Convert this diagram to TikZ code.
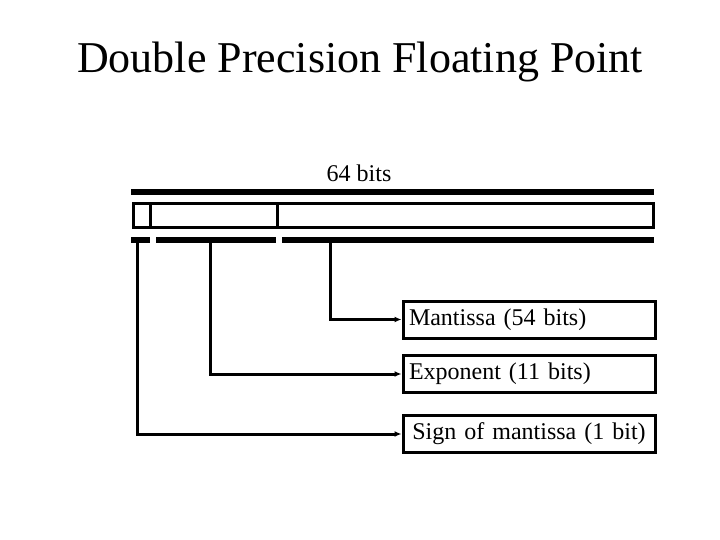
\documentclass[tikz,border=0pt]{standalone}
\usepackage{fontspec}
\setmainfont{Liberation Serif}
\usetikzlibrary{arrows.meta,positioning}

\begin{document}
\begin{tikzpicture}[x=1pt, y=-1pt,
  field/.style={rectangle, draw, line width=3pt, minimum width=252pt, minimum height=37pt, inner sep=5pt, text width=240pt, align=#1, font=\fontsize{24}{28}\selectfont},
  wordline/.style={line width=3pt},
  link/.style={line width=3pt, -{Latex[length=7pt,width=6pt]}}
]
  \useasboundingbox (0,0) rectangle (720,540);
  % Title
  \node[font=\fontsize{44}{50}\selectfont, anchor=base] (title) at (360,73) {Double Precision Floating Point};
  % Word size
  \node[font=\fontsize{24}{28}\selectfont, anchor=base] (size) at (359,182) {64 bits};
  \fill (131,189) rectangle (654,195);
  % Word
  \draw[wordline] (133,204) rectangle (653,228);
  \draw[wordline] (150,204) -- (150,228);
  \draw[wordline] (277,204) -- (277,228);
  % Field bars
  \fill (131,237) rectangle (150,243);
  \fill (156,237) rectangle (276,243);
  \fill (282,237) rectangle (654,243);
  \coordinate (signbit) at (137,242);
  \coordinate (expbits) at (210,242);
  \coordinate (manbits) at (330,242);
  % Field boxes
  \node[field=left] (mantissa) at (529,319.5) {Mantissa (54 bits)};
  \node[field=left] (exponent) at (529,374) {Exponent (11 bits)};
  \node[field=center] (sign) at (529,434) {Sign of mantissa (1 bit)};
  % Links
  \draw[link] (manbits) |- (mantissa.west);
  \draw[link] (expbits) |- (exponent.west);
  \draw[link] (signbit) |- (sign.west);
\end{tikzpicture}
\end{document}
